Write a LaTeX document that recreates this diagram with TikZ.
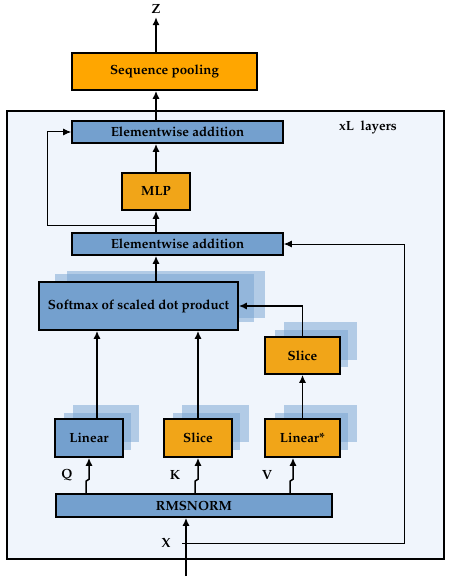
\documentclass[tikz,border=0pt]{standalone}
\usepackage[T1]{fontenc}
\renewcommand{\rmdefault}{ppl}
\usetikzlibrary{arrows.meta}
\definecolor{boxblue}{RGB}{116,160,206}
\definecolor{shadeblue}{RGB}{118,163,210}
\definecolor{poolorange}{RGB}{255,166,0}
\definecolor{boxorange}{RGB}{241,165,24}
\definecolor{layerbg}{RGB}{240,245,252}

\begin{document}
\begin{tikzpicture}[x=1pt,y=-1pt,
	box/.style={draw=black,line width=1.6pt,rectangle,inner sep=0pt,font=\fontsize{13.3}{15}\selectfont\bfseries},
	bluebox/.style={box,fill=boxblue},
	orangebox/.style={box,fill=boxorange},
	layer/.style={fill=shadeblue,opacity=0.5},
	arr/.style={-{Latex[length=8pt,width=7pt]},line width=1.5pt},
	loop/.style={-{Latex[length=8pt,width=7pt]},line width=1pt},
	lbl/.style={font=\fontsize{13.3}{15}\selectfont\bfseries}]
	\useasboundingbox (0,0) rectangle (449,580);
	% layer frame
	\draw[fill=layerbg,line width=1.6pt] (7,111) rectangle (444,559);
	\node[lbl] at (368,127)(rep){xL\ \ layers};

	% stacked copies behind the boxes
	\fill[layer] (55,274) rectangle (254,322);
	\fill[layer] (67,271) rectangle (265,318);
	\fill[layer] (275,330) rectangle (348,367);
	\fill[layer] (284,322) rectangle (357,360);
	\fill[layer] (275,413) rectangle (348,450);
	\fill[layer] (284,405) rectangle (357,442);
	\fill[layer] (64,413) rectangle (131,450);
	\fill[layer] (73,405) rectangle (139,442);
	\fill[layer] (173,413) rectangle (240,450);
	\fill[layer] (182,405) rectangle (249,442);

	\node[orangebox,fill=poolorange,minimum width=185,minimum height=37] at (164.5,71.5)(pool){Sequence pooling};
	\node[bluebox,minimum width=211,minimum height=22] at (177.5,132)(add1){Elementwise addition};
	\node[orangebox,minimum width=68,minimum height=37] at (156,191.5)(mlp){MLP};
	\node[bluebox,minimum width=211,minimum height=22] at (177.5,244)(add2){Elementwise addition};
	\node[bluebox,minimum width=199,minimum height=48] at (138.5,306)(softmax){Softmax of scaled dot product};
	\node[orangebox,minimum width=75,minimum height=37] at (302.5,355.5)(slicev){Slice};
	\node[bluebox,minimum width=68,minimum height=38] at (89,438)(linq){Linear};
	\node[orangebox,minimum width=68,minimum height=38] at (198,438)(slicek){Slice};
	\node[orangebox,minimum width=75,minimum height=38] at (302.5,438)(linv){Linear*};
	\node[bluebox,minimum width=276,minimum height=23] at (194,505.5)(rms){RMSNORM};

	\node[lbl] at (156,9)(z){Z};
	\node[lbl] at (67,475)(q){Q};
	\node[lbl] at (175,475)(k){K};
	\node[lbl] at (267,475)(v){V};
	\node[lbl] at (166,543)(x){X};
	\coordinate (xin) at (186,576);
	\coordinate (xsplit) at (182,543);
	\coordinate (res) at (156,225);

	% main stream
	\draw[arr] (xin) -- (xin |- rms.south);
	\draw[arr] ([xshift=-3]linq.south |- rms.north) -- ++(0,-12) -- ++(3,-2) -- (linq.south);
	\draw[arr] ([xshift=-3]slicek.south |- rms.north) -- ++(0,-12) -- ++(3,-2) -- (slicek.south);
	\draw[arr] ([xshift=-12.5]linv.south |- rms.north) -- ++(0,-12) -- ++(3,-2) -- ([xshift=-9.5]linv.south);
	\draw[arr] ([xshift=8]linq.north) -- ([xshift=8]linq.north |- softmax.south);
	\draw[arr] (slicek.north) -- (slicek.north |- softmax.south);
	\draw[arr] (linv.north) -- (slicev.south);
	\draw[arr] (slicev.north) |- (softmax.east);
	\draw[arr] (softmax.north -| mlp.south) -- (add2.south -| mlp.south);
	\draw[arr] (add2.north -| mlp.south) -- (mlp.south);
	\draw[arr] (mlp.north) -- (add1.south -| mlp.north);
	\draw[arr] (add1.north -| mlp.north) -- (pool.south -| mlp.north);
	\draw[arr] (pool.north -| mlp.north) -- (z.south);

	% skip connections
	\draw[loop] (res) -- (47,225) |- (add1.west);
	\draw[loop] (xsplit) -- (404,543) |- (add2.east);
\end{tikzpicture}
\end{document}
